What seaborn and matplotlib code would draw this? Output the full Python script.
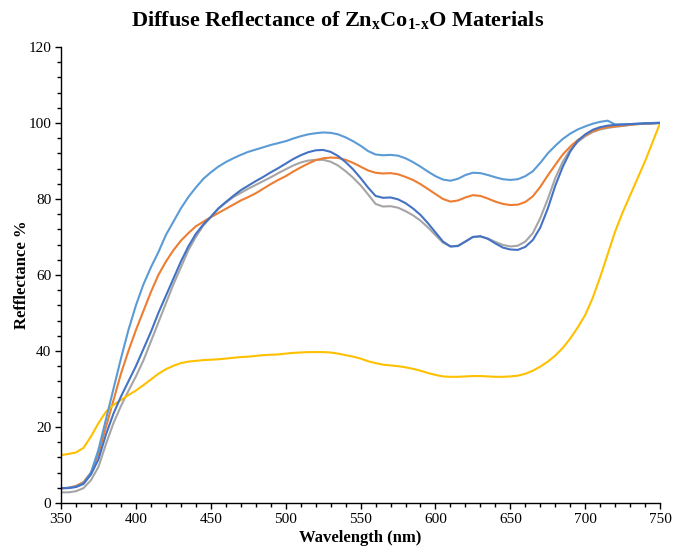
import numpy as np
import pandas as pd
import matplotlib
matplotlib.use("Agg")
import matplotlib.pyplot as plt
import seaborn as sns
from matplotlib.ticker import MultipleLocator

wavelength = list(range(350, 751, 5))

light_blue = [3.9, 4.0, 4.3, 5.2, 8, 14, 22, 30, 38, 45.5, 52, 57.5, 62, 66, 70.5, 74, 77.5, 80.5, 83, 85.3,
              87, 88.5, 89.7, 90.7, 91.6, 92.4, 93, 93.6, 94.2, 94.7, 95.2, 95.9, 96.5, 97, 97.3, 97.5, 97.4, 97,
              96.2, 95.2, 94, 92.6, 91.7, 91.5, 91.6, 91.4, 90.7, 89.7, 88.5, 87.2, 86, 85.1, 84.8, 85.3, 86.3,
              86.9, 86.8, 86.3, 85.7, 85.2, 85, 85.2, 86, 87.3, 89.5, 92, 94, 95.8, 97.2, 98.3, 99.1, 99.8, 100.3,
              100.6, 99.6, 99.6, 99.7, 99.8, 99.9, 100, 100.1]

orange = [3.8, 4.0, 4.5, 5.5, 8, 13, 20, 27, 34, 40, 45.5, 50.5, 55.5, 60, 63.5, 66.5, 69, 71, 72.8, 74,
          75.2, 76.3, 77.4, 78.5, 79.6, 80.5, 81.5, 82.7, 83.9, 85, 86, 87.2, 88.3, 89.3, 90.2, 90.7, 90.9, 90.8,
          90.3, 89.5, 88.5, 87.5, 86.9, 86.7, 86.8, 86.5, 85.8, 85, 83.9, 82.6, 81.3, 80, 79.3, 79.6, 80.4, 81,
          80.8, 80.1, 79.3, 78.7, 78.4, 78.5, 79.2, 80.7, 83.2, 86.2, 89, 91.7, 93.8, 95.5, 96.8, 97.8, 98.5,
          98.9, 99.1, 99.3, 99.5, 99.7, 99.8, 99.9, 100]

dark_blue = [3.9, 3.9, 4.2, 5, 7.5, 11.5, 18, 23.5, 28, 32, 36, 40.5, 45, 50, 54.5, 59, 63.5, 67.5, 70.8, 73.3,
             75.3, 77.5, 79.2, 80.8, 82.3, 83.5, 84.7, 85.8, 87, 88.1, 89.3, 90.5, 91.5, 92.3, 92.8, 92.9, 92.4,
             91.3, 89.7, 87.8, 85.5, 83, 80.8, 80.3, 80.4, 79.9, 78.9, 77.5, 75.8, 73.6, 71.2, 68.8, 67.5, 67.6,
             68.8, 70, 70.2, 69.5, 68.3, 67.2, 66.7, 66.6, 67.4, 69.2, 72.5, 77.5, 83.5, 88.5, 92.5, 95.3, 97,
             98.2, 98.9, 99.3, 99.5, 99.6, 99.7, 99.8, 99.9, 99.9, 100]

gray = [2.8, 2.8, 3.1, 3.9, 6, 9.5, 15.5, 21, 25.5, 29.5, 33.3, 37.5, 42.5, 47.5, 52.5, 57.5, 62, 66.5, 70, 73,
        75.2, 77.4, 79, 80.5, 81.6, 82.7, 83.7, 84.7, 85.7, 86.8, 87.8, 88.8, 89.6, 90.1, 90.3, 90.3, 89.8, 88.8,
        87.3, 85.6, 83.6, 81.2, 78.7, 78, 78.1, 77.7, 76.8, 75.7, 74.3, 72.5, 70.5, 68.5, 67.5, 67.7, 68.8, 70,
        70.1, 69.6, 68.7, 67.9, 67.5, 67.7, 68.8, 71, 75, 80, 85.5, 89.8, 93, 95, 96.5, 97.6, 98.3, 98.7, 99,
        99.2, 99.5, 99.7, 99.8, 99.9, 100]

yellow = [12.6, 12.9, 13.3, 14.5, 17.5, 21, 24, 25.8, 27.1, 28.4, 29.6, 31, 32.5, 34, 35.2, 36.1, 36.8, 37.2,
          37.4, 37.6, 37.7, 37.8, 38, 38.2, 38.4, 38.5, 38.7, 38.9, 39, 39.1, 39.3, 39.5, 39.6, 39.7, 39.7, 39.7,
          39.6, 39.3, 38.9, 38.5, 38, 37.3, 36.8, 36.4, 36.2, 36, 35.7, 35.3, 34.8, 34.2, 33.7, 33.3, 33.2, 33.2,
          33.3, 33.4, 33.4, 33.3, 33.2, 33.2, 33.3, 33.5, 34, 34.8, 35.9, 37.2, 38.8, 40.8, 43.3, 46.2, 49.5, 54,
          59.5, 65.5, 71.5, 76.5, 81, 85.5, 90, 95, 100]

series = {
    "gray": gray,
    "orange": orange,
    "yellow": yellow,
    "light_blue": light_blue,
    "dark_blue": dark_blue,
}
colors = {
    "gray": "#A5A5A5",
    "orange": "#ED7D31",
    "yellow": "#FFC000",
    "light_blue": "#5B9BD5",
    "dark_blue": "#4472C4",
}

sns.set_theme(style="white")
plt.rcParams["font.family"] = ["Liberation Serif", "DejaVu Serif"]
plt.rcParams["text.color"] = "black"
plt.rcParams["axes.labelcolor"] = "black"
plt.rcParams["xtick.color"] = "black"
plt.rcParams["ytick.color"] = "black"
plt.rcParams["mathtext.fontset"] = "custom"
plt.rcParams["mathtext.rm"] = "Liberation Serif:bold"
plt.rcParams["mathtext.it"] = "Liberation Serif:bold"
plt.rcParams["mathtext.bf"] = "Liberation Serif:bold"

fig = plt.figure(figsize=(6.75, 5.46), dpi=100)
ax = fig.add_axes([0.0904, 0.0788, 0.8876, 0.8352])

for name, vals in series.items():
    df = pd.DataFrame({"Wavelength": wavelength, "Reflectance": vals})
    sns.lineplot(data=df, x="Wavelength", y="Reflectance", ax=ax, color=colors[name],
                 linewidth=1.5, estimator=None, sort=False)

ax.set_xlim(350, 750)
ax.set_ylim(0, 120)
ax.xaxis.set_major_locator(MultipleLocator(50))
ax.xaxis.set_minor_locator(MultipleLocator(10))
ax.yaxis.set_major_locator(MultipleLocator(20))
ax.yaxis.set_minor_locator(MultipleLocator(4))
ax.tick_params(axis="both", which="major", direction="out", length=4, width=1, colors="black",
               labelsize=11, bottom=True, left=True, pad=3)
ax.tick_params(axis="both", which="minor", direction="out", length=3, width=1, colors="black",
               bottom=True, left=True)
for s in ["left", "bottom"]:
    ax.spines[s].set_color("black")
    ax.spines[s].set_linewidth(1)
sns.despine(ax=ax)
ax.grid(False)

ax.set_xlabel("Wavelength (nm)", fontsize=12, fontweight="bold", labelpad=3, color="black")
ax.set_ylabel("Refflectance %", fontsize=12, fontweight="bold", labelpad=-1, color="black")
fig.text(0.5, 0.963, "Diffuse Reflectance of Zn$_\\mathrm{x}$Co$_\\mathrm{1\u2010x}$O Materials",
         ha="center", va="center", fontsize=16, fontweight="bold", color="black")

fig.savefig("out.png", dpi=100)
